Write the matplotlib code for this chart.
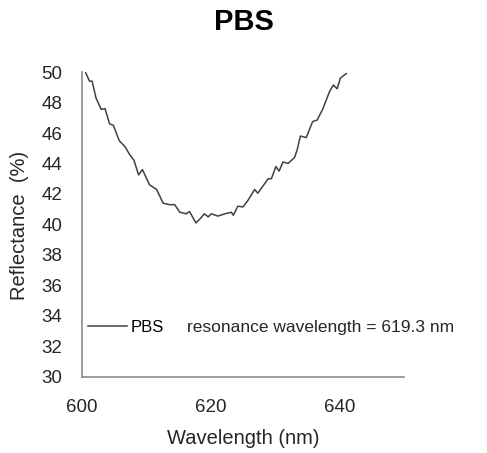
import matplotlib
matplotlib.use("Agg")
import matplotlib.pyplot as plt

# reflectance spectrum
wavelength = [600.6, 601.2, 601.6, 602.2, 603.0, 603.6, 604.3, 604.9, 605.8, 606.7,
              607.4, 608.1, 608.8, 609.4, 610.5, 611.6, 612.6, 613.6, 614.4, 615.2,
              616.2, 616.7, 617.7, 618.3, 619.0, 619.6, 620.1, 621.1, 622.2, 623.2,
              623.5, 624.2, 625.0, 625.8, 626.8, 627.3, 628.9, 629.4, 630.1, 630.6,
              631.2, 632.0, 633.0, 633.4, 633.9, 634.8, 635.8, 636.5, 637.4, 638.4,
              639.0, 639.6, 640.1, 641.0]
reflectance = [49.95, 49.4, 49.4, 48.3, 47.55, 47.6, 46.6, 46.5, 45.5, 45.1,
               44.6, 44.2, 43.25, 43.6, 42.6, 42.3, 41.4, 41.3, 41.3, 40.8,
               40.7, 40.85, 40.1, 40.35, 40.7, 40.5, 40.7, 40.55, 40.7, 40.8,
               40.6, 41.2, 41.15, 41.6, 42.3, 42.05, 43.0, 43.0, 43.8, 43.5,
               44.1, 44.0, 44.4, 44.9, 45.8, 45.7, 46.75, 46.85, 47.6, 48.7,
               49.15, 48.9, 49.6, 49.9]
resonance = 619.3

plt.rcParams["font.family"] = ["Liberation Sans", "DejaVu Sans"]
txt = "#262626"

fig = plt.figure(figsize=(4.87, 4.53), dpi=100)
# axes box in figure fractions (x 82..404 px, y 72..377 px)
ax = fig.add_axes([0.168, 0.168, 0.662, 0.673])

ax.plot(wavelength, reflectance, color="#404040", linewidth=1.1, label="PBS")

ax.set_xlim(600, 650)
ax.set_ylim(30, 50)
ax.set_xticks([600, 620, 640])
ax.set_yticks(range(30, 51, 2))
ax.tick_params(length=0, labelsize=13.5, colors=txt)
ax.tick_params(axis="x", pad=16)
ax.tick_params(axis="y", pad=14)
for s in ["top", "right"]:
    ax.spines[s].set_visible(False)
for s in ["left", "bottom"]:
    ax.spines[s].set_color("#8c8c8c")
    ax.spines[s].set_linewidth(1.2)

fig.text(0.5 * (0.168 + 0.830), 1 - 438 / 453, "Wavelength (nm)", fontsize=14.5,
         color=txt, ha="center", va="center")
fig.text(20 / 487, 1 - 225 / 453, "Reflectance  (%)", fontsize=14.5, color=txt,
         rotation=90, ha="center", va="center")
fig.text(0.5, 1 - 22 / 453, "PBS", fontsize=21, fontweight="bold",
         ha="center", va="center")

ax.legend(loc="center left", bbox_to_anchor=(0.0186, 0.162), frameon=False,
          fontsize=12, handlelength=2.35, handletextpad=0.2, borderpad=0,
          borderaxespad=0)
ax.text(0.326, 0.162, f"resonance wavelength = {resonance} nm", transform=ax.transAxes,
        fontsize=12.5, color=txt, va="center")

fig.savefig("out.png", dpi=100)
